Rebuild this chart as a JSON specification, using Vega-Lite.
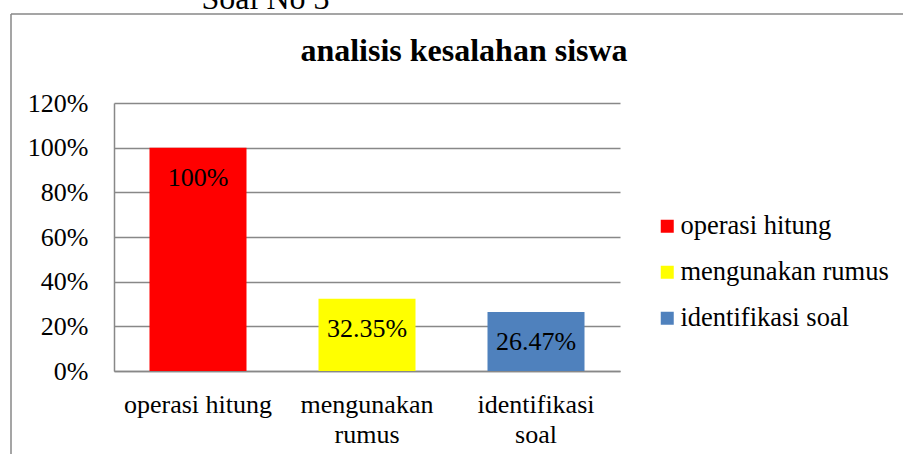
{
  "$schema": "https://vega.github.io/schema/vega-lite/v6.json",
  "width": 892,
  "height": 440,
  "autosize": {"type": "none"},
  "padding": {"left": 11, "top": 14, "right": 0, "bottom": 0},
  "background": "white",
  "config": {
    "font": "Liberation Serif",
    "view": {"stroke": "#888888", "strokeWidth": 1.5, "strokeDash": [892, 1332, 440, 0]}
  },
  "title": {
    "text": "analisis kesalahan siswa",
    "font": "Liberation Serif",
    "fontSize": 32,
    "fontWeight": "bold",
    "color": "black",
    "anchor": "middle",
    "frame": "group",
    "baseline": "alphabetic",
    "offset": -111,
    "dx": 7
  },
  "data": {
    "values": [
      {"kategori": "operasi hitung", "nilai": 1.0},
      {"kategori": "mengunakan rumus", "nilai": 0.3235},
      {"kategori": "identifikasi soal", "nilai": 0.2647}
    ]
  },
  "encoding": {
    "x": {
      "field": "kategori",
      "type": "nominal",
      "sort": null,
      "scale": {"range": [103, 609], "paddingInner": 0.426, "paddingOuter": 0.21},
      "axis": {
        "offset": -83,
        "title": null,
        "ticks": false,
        "tickSize": 0,
        "labelAngle": 0,
        "labelPadding": 20,
        "labelFontSize": 26,
        "labelFont": "Liberation Serif",
        "labelColor": "black",
        "labelLineHeight": 30,
        "labelLimit": 300,
        "labelExpr": "datum.label == 'operasi hitung' ? datum.label : split(datum.label, ' ')",
        "domainColor": "#888888",
        "domainWidth": 1.5,
        "grid": false
      }
    },
    "y": {
      "field": "nilai",
      "type": "quantitative",
      "scale": {"domain": [0, 1.2], "range": [357, 89], "nice": false, "zero": true},
      "axis": {
        "offset": -103,
        "values": [0, 0.2, 0.4, 0.6, 0.8, 1.0, 1.2],
        "format": ".0%",
        "ticks": false,
        "tickSize": 0,
        "labelPadding": 26,
        "labelFontSize": 26,
        "labelFont": "Liberation Serif",
        "labelColor": "black",
        "domainColor": "#888888",
        "domainWidth": 1.5,
        "grid": true,
        "gridColor": "#888888",
        "gridWidth": 1.5,
        "title": "Soal No 3",
        "titleAngle": 0,
        "titleX": 151,
        "titleY": -6,
        "titleAlign": "center",
        "titleBaseline": "alphabetic",
        "titleFont": "Liberation Serif",
        "titleFontSize": 32,
        "titleFontWeight": "normal",
        "titleColor": "black"
      }
    }
  },
  "layer": [
    {
      "mark": {"type": "bar"},
      "encoding": {
        "color": {
          "field": "kategori",
          "type": "nominal",
          "sort": null,
          "scale": {
            "domain": ["operasi hitung", "mengunakan rumus", "identifikasi soal"],
            "range": ["#FF0000", "#FFFF00", "#4F81BD"]
          },
          "legend": {
            "title": null,
            "orient": "none",
            "legendX": 643,
            "legendY": 199,
            "padding": 0,
            "symbolType": "square",
            "symbolSize": 169,
            "symbolStrokeWidth": 0,
            "symbolOpacity": 1,
            "labelFont": "Liberation Serif",
            "labelFontSize": 26.5,
            "labelColor": "black",
            "labelOffset": 0,
            "labelLimit": 300,
            "rowPadding": 19
          }
        }
      }
    },
    {
      "mark": {"type": "text", "baseline": "middle", "dy": 30, "fontSize": 26, "font": "Liberation Serif", "color": "black"},
      "encoding": {
        "text": {"field": "nilai", "type": "quantitative", "format": ".2~%"}
      }
    }
  ]
}
